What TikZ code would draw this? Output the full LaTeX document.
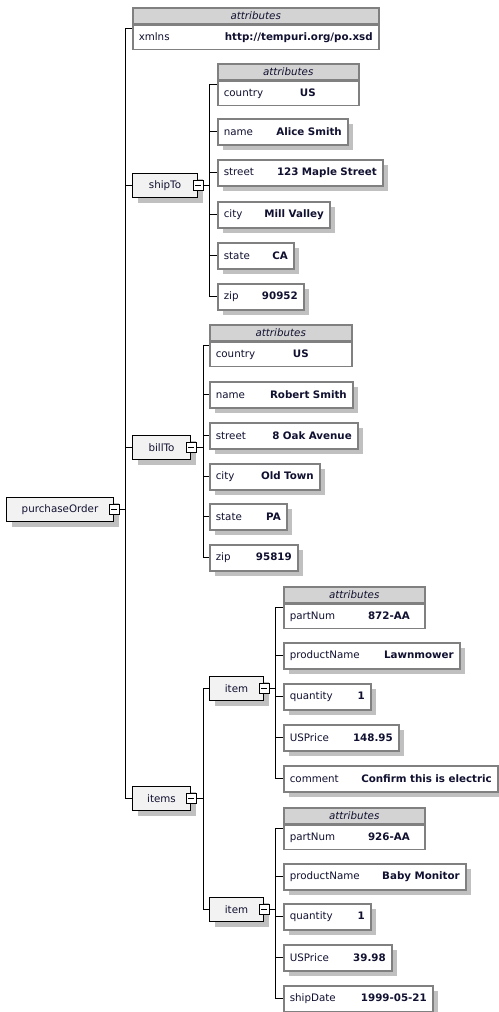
\documentclass[tikz,border=0pt]{standalone}
\usepackage{fontspec}
\setmainfont{DejaVu Sans}
\usetikzlibrary{positioning, shadows}
\definecolor{boxgray}{HTML}{808080}
\definecolor{shadowgray}{HTML}{C0C0C0}
\definecolor{headgray}{HTML}{D3D3D3}
\definecolor{elemfill}{HTML}{F2F2F2}
\definecolor{inknavy}{HTML}{101030}

\begin{document}
\begin{tikzpicture}[
    x=1pt, y=-1pt,
    font=\fontsize{10.3}{12}\selectfont,
    text=inknavy,
    % Styles
    elembox/.style={
        rectangle,
        draw=black,
        fill=elemfill,
        line width=1pt,
        minimum height=24pt,
        inner sep=0pt,
        anchor=north west,
        drop shadow={opacity=1, fill=shadowgray, shadow xshift=5pt, shadow yshift=-5pt}
    },
    minusbox/.style={
        rectangle,
        draw=black,
        fill=white,
        line width=0.9pt,
        minimum size=10pt,
        inner sep=0pt,
        path picture={\draw[line width=0.9pt] ([xshift=2pt]path picture bounding box.west) -- ([xshift=-2pt]path picture bounding box.east);}
    },
    leafbox/.style={
        rectangle,
        draw=boxgray,
        fill=white,
        line width=1.6pt,
        minimum height=26pt,
        inner xsep=6pt,
        inner ysep=0pt,
        anchor=north west,
        drop shadow={opacity=1, fill=shadowgray, shadow xshift=5pt, shadow yshift=-5pt}
    },
    attrhead/.style={
        rectangle,
        draw=boxgray,
        fill=headgray,
        line width=1.5pt,
        minimum height=16pt,
        inner sep=0pt,
        anchor=north west,
        font=\fontsize{10.3}{12}\selectfont\itshape
    },
    attrrow/.style={
        rectangle,
        draw=boxgray,
        fill=white,
        line width=1.5pt,
        minimum height=24pt,
        inner xsep=6pt,
        inner ysep=0pt,
        anchor=north west
    },
    link/.style={
        draw=black,
        line width=1pt
    }
]
    \fill[white] (0,0) rectangle (498,1012);
    \useasboundingbox (0,0) rectangle (498,1012);

    % ================= ROOT =================
    \node[elembox, minimum width=107pt] (po) at (6,497) {purchaseOrder};

    \node[attrhead, minimum width=246pt] (poHead) at (132,7) {attributes};
    \node[attrrow, text width=234pt] (poAttr) at (poHead.south west) {xmlns\hfill\textbf{http://tempuri.org/po.xsd}};
    \coordinate (poAttr-in) at ([yshift=-4pt]poAttr.north west);

    % ================= SHIPTO =================
    \node[elembox, minimum width=65pt] (shipTo) at (132,173) {shipTo};

    \node[attrhead, minimum width=141pt] (shipHead) at (217,63) {attributes};
    \node[attrrow, text width=129pt] (shipAttr) at (shipHead.south west) {country\hfill\textbf{US}\hspace*{37pt}};
    \coordinate (shipAttr-in) at ([yshift=-4pt]shipAttr.north west);

    \node[leafbox, text width=118pt] (shipName) at (217,118) {name\hfill\textbf{Alice Smith}};
    \node[leafbox, text width=153pt] (shipStreet) at (217,159) {street\hfill\textbf{123 Maple Street}};
    \node[leafbox, text width=100pt] (shipCity) at (217,201) {city\hfill\textbf{Mill Valley}};
    \node[leafbox, text width=64pt] (shipState) at (217,242) {state\hfill\textbf{CA}};
    \node[leafbox, text width=74pt] (shipZip) at (217,283) {zip\hfill\textbf{90952}};

    % ================= BILLTO =================
    \node[elembox, minimum width=58pt] (billTo) at (132,435) {billTo};

    \node[attrhead, minimum width=142pt] (billHead) at (209,324) {attributes};
    \node[attrrow, text width=130pt] (billAttr) at (billHead.south west) {country\hfill\textbf{US}\hspace*{37pt}};
    \coordinate (billAttr-in) at ([yshift=-4pt]billAttr.north west);

    \node[leafbox, text width=131pt] (billName) at (209,381) {name\hfill\textbf{Robert Smith}};
    \node[leafbox, text width=136pt] (billStreet) at (209,422) {street\hfill\textbf{8 Oak Avenue}};
    \node[leafbox, text width=98pt] (billCity) at (209,463) {city\hfill\textbf{Old Town}};
    \node[leafbox, text width=65pt] (billState) at (209,503) {state\hfill\textbf{PA}};
    \node[leafbox, text width=76pt] (billZip) at (209,544) {zip\hfill\textbf{95819}};

    % ================= ITEMS =================
    \node[elembox, minimum width=58pt] (items) at (132,786) {items};
    \node[elembox, minimum width=54pt] (itemA) at (209,676) {item};
    \node[elembox, minimum width=54pt] (itemB) at (209,897) {item};

    % First item
    \node[attrhead, minimum width=141pt] (itemAHead) at (283,586) {attributes};
    \node[attrrow, text width=129pt] (itemAAttr) at (itemAHead.south west) {partNum\hfill\textbf{872-AA}\hspace*{9pt}};
    \coordinate (itemAAttr-in) at ([yshift=-4pt]itemAAttr.north west);

    \node[leafbox, text width=164pt] (itemAProd) at (283,642) {productName\hfill\textbf{Lawnmower}};
    \node[leafbox, text width=75pt] (itemAQty) at (283,683) {quantity\hfill\textbf{1}};
    \node[leafbox, text width=103pt] (itemAPrice) at (283,724) {USPrice\hfill\textbf{148.95}};
    \node[leafbox, text width=202pt] (itemAComment) at (283,765) {comment\hfill\textbf{Confirm this is electric}};

    % Second item
    \node[attrhead, minimum width=141pt] (itemBHead) at (283,807) {attributes};
    \node[attrrow, text width=129pt] (itemBAttr) at (itemBHead.south west) {partNum\hfill\textbf{926-AA}\hspace*{9pt}};
    \coordinate (itemBAttr-in) at ([yshift=-4pt]itemBAttr.north west);

    \node[leafbox, text width=170pt] (itemBProd) at (283,863) {productName\hfill\textbf{Baby Monitor}};
    \node[leafbox, text width=75pt] (itemBQty) at (283,903) {quantity\hfill\textbf{1}};
    \node[leafbox, text width=96pt] (itemBPrice) at (283,944) {USPrice\hfill\textbf{39.98}};
    \node[leafbox, text width=137pt] (itemBDate) at (283,985) {shipDate\hfill\textbf{1999-05-21}};

    % ================= COLLAPSE BUTTONS =================
    \foreach \e in {po, shipTo, billTo, items, itemA, itemB}
        \node[minusbox] (\e-m) at (\e.east) {};

    % ================= CONNECTIONS =================
    \draw[link] (po-m.east) -- ++(6,0) |- (poAttr-in);
    \foreach \c in {shipTo, billTo, items}
        \draw[link] (po-m.east) -- ++(6,0) |- (\c.west);

    \draw[link] (shipTo-m.east) -- ++(6,0) |- (shipAttr-in);
    \foreach \c in {shipName, shipStreet, shipCity, shipState, shipZip}
        \draw[link] (shipTo-m.east) -- ++(6,0) |- (\c.west);

    \draw[link] (billTo-m.east) -- ++(7,0) |- (billAttr-in);
    \foreach \c in {billName, billStreet, billCity, billState, billZip}
        \draw[link] (billTo-m.east) -- ++(7,0) |- (\c.west);

    \foreach \c in {itemA, itemB}
        \draw[link] (items-m.east) -- ++(7,0) |- (\c.west);

    \draw[link] (itemA-m.east) -- ++(6,0) |- (itemAAttr-in);
    \foreach \c in {itemAProd, itemAQty, itemAPrice, itemAComment}
        \draw[link] (itemA-m.east) -- ++(6,0) |- (\c.west);

    \draw[link] (itemB-m.east) -- ++(6,0) |- (itemBAttr-in);
    \foreach \c in {itemBProd, itemBQty, itemBPrice, itemBDate}
        \draw[link] (itemB-m.east) -- ++(6,0) |- (\c.west);

\end{tikzpicture}
\end{document}
